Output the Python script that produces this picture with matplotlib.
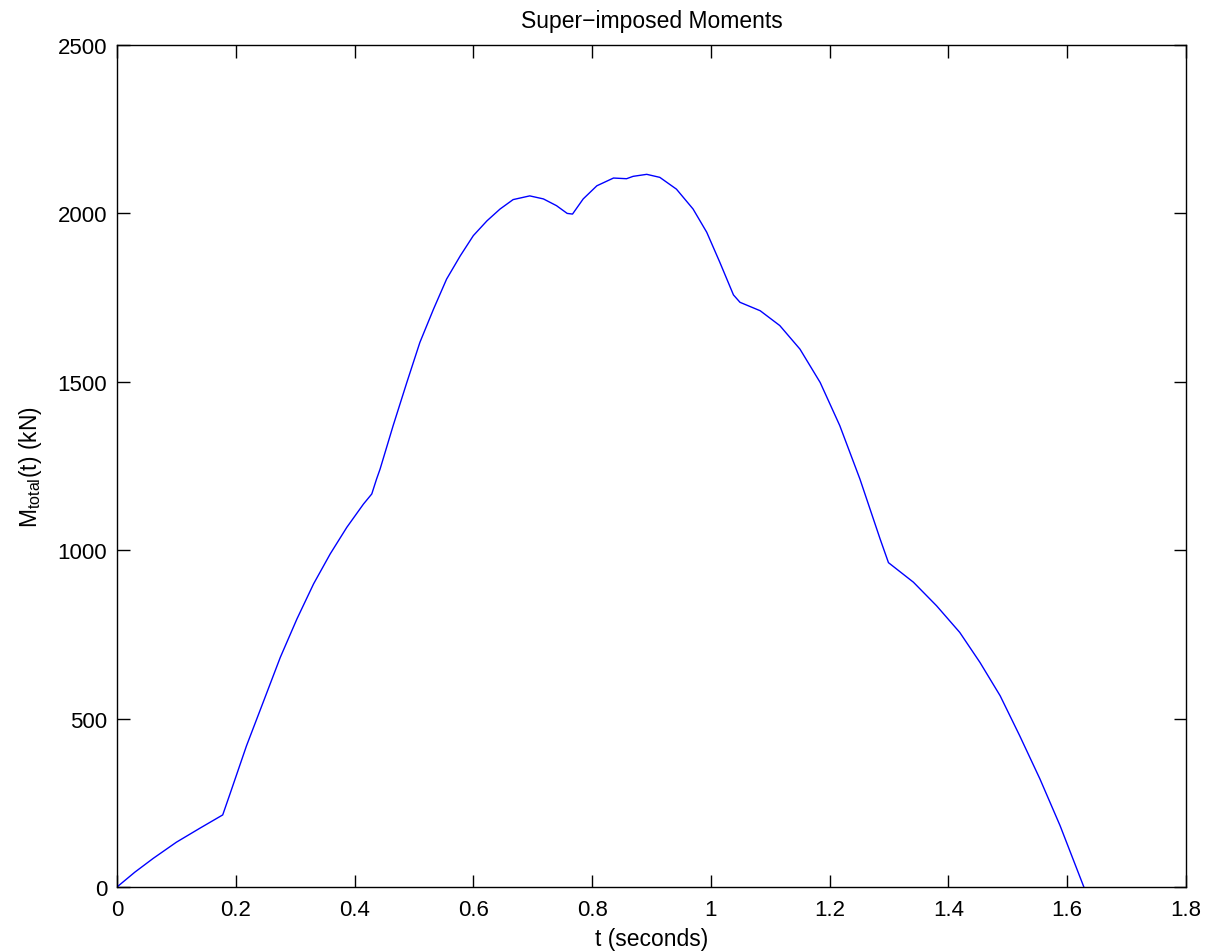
import matplotlib
matplotlib.use("Agg")
import matplotlib.pyplot as plt

t_values = [0, 0.030, 0.061, 0.100, 0.140, 0.178, 0.190, 0.218, 0.246, 0.275,
            0.303, 0.331, 0.359, 0.387, 0.415, 0.429, 0.437, 0.443, 0.465, 0.488,
            0.510, 0.533, 0.555, 0.578, 0.600, 0.623, 0.645, 0.667, 0.695, 0.718,
            0.740, 0.758, 0.767, 0.785, 0.808, 0.836, 0.858, 0.869, 0.892, 0.914,
            0.942, 0.970, 0.993, 1.015, 1.038, 1.049, 1.083, 1.116, 1.150, 1.184,
            1.217, 1.251, 1.285, 1.299, 1.341, 1.380, 1.419, 1.453, 1.487, 1.520,
            1.554, 1.588, 1.628]
m_values = [0, 44, 85, 133, 175, 214, 275, 419, 548, 682,
            796, 900, 989, 1068, 1137, 1167, 1211, 1241, 1370, 1498,
            1617, 1716, 1805, 1874, 1934, 1978, 2013, 2041, 2052, 2043,
            2023, 2000, 1998, 2043, 2082, 2105, 2103, 2110, 2116, 2107,
            2072, 2013, 1944, 1855, 1758, 1736, 1711, 1667, 1597, 1498,
            1370, 1211, 1033, 963, 905, 835, 756, 667, 568, 449,
            321, 182, 0]

x_ticks = [0, 0.2, 0.4, 0.6, 0.8, 1.0, 1.2, 1.4, 1.6, 1.8]
x_tick_labels = ["0", "0.2", "0.4", "0.6", "0.8", "1", "1.2", "1.4", "1.6", "1.8"]
y_ticks = [0, 500, 1000, 1500, 2000, 2500]

plt.rcParams['font.family'] = ['Liberation Sans', 'DejaVu Sans']
plt.rcParams['mathtext.default'] = 'regular'

fig = plt.figure(figsize=(12.08, 9.53), dpi=100)
ax = fig.add_axes([117/1208, 65/953, 1069/1208, 842/953])
ax.plot(t_values, m_values, color=(0, 0, 1), linewidth=1.0)
ax.set_xlim(0, 1.8)
ax.set_ylim(0, 2500)
ax.set_xticks(x_ticks)
ax.set_xticklabels(x_tick_labels)
ax.set_yticks(y_ticks)
ax.tick_params(direction='in', top=True, right=True, length=9, width=1,
               labelsize=16)
ax.tick_params(axis='x', pad=9)
ax.tick_params(axis='y', pad=7)
for s in ax.spines.values():
    s.set_linewidth(1.0)
ax.set_title("Super\u2212imposed Moments", fontsize=16.5, pad=13)
ax.set_xlabel("t (seconds)", fontsize=16.5, labelpad=5)
ax.set_ylabel(r"M$_{total}$(t) (kN)", fontsize=16.5, labelpad=10)
fig.savefig("out.png", dpi=100)
